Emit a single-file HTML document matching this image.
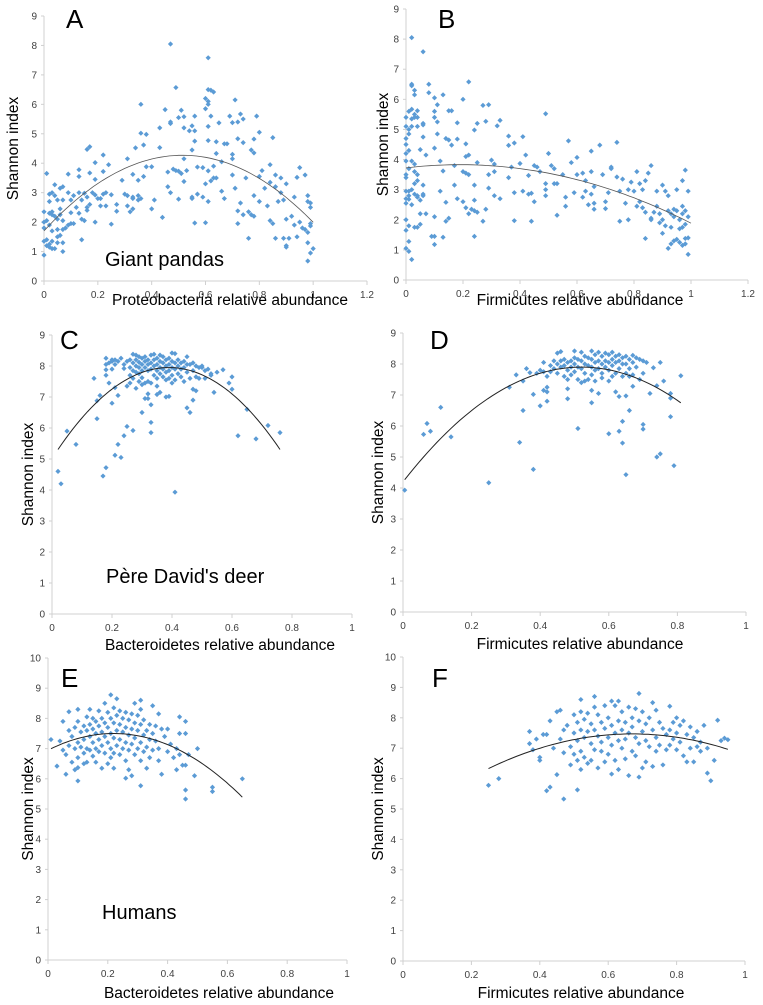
<!DOCTYPE html>
<html><head><meta charset="utf-8">
<style>
html,body{margin:0;padding:0;background:#fff;}
svg{display:block;font-family:"Liberation Sans",sans-serif;}
</style></head>
<body>
<svg id="fig" width="763" height="1005" viewBox="0 0 763 1005"></svg>
<script>
// ---------- data ----------
const pointsA = [[0.47,8.05],[0.61,7.58],[0.49,6.57],[0.61,6.5],[0.62,6.48],[0.63,6.42],[0.6,6.2],[0.61,6.1],[0.61,6.0],[0.36,6.0],[0.71,6.15],[0.45,5.82],[0.51,5.8],[0.6,5.85],[0.62,5.6],[0.5,5.55],[0.56,5.6],[0.52,5.58],[0.69,5.6],[0.73,5.67],[0.74,5.5],[0.79,5.6],[0.47,5.35],[0.47,5.4],[0.43,5.2],[0.52,5.2],[0.54,5.1],[0.55,5.27],[0.56,5.1],[0.61,5.25],[0.65,5.37],[0.7,5.38],[0.72,5.4],[0.38,4.98],[0.36,5.02],[0.8,5.05],[0.85,4.87],[0.56,4.75],[0.61,4.77],[0.64,4.73],[0.67,4.66],[0.68,4.66],[0.72,4.83],[0.74,4.7],[0.78,4.82],[0.37,4.62],[0.34,4.52],[0.43,4.53],[0.16,4.47],[0.17,4.56],[0.55,4.45],[0.64,4.33],[0.7,4.3],[0.77,4.45],[0.78,4.35],[0.22,4.28],[0.31,4.15],[0.52,4.15],[0.66,4.05],[0.7,4.15],[0.19,4.02],[0.24,3.95],[0.38,3.88],[0.4,3.88],[0.57,3.87],[0.63,3.9],[0.84,3.95],[0.09,3.63],[0.01,3.65],[0.13,3.78],[0.17,3.67],[0.22,3.72],[0.29,3.42],[0.33,3.62],[0.35,3.42],[0.37,3.55],[0.46,3.7],[0.48,3.8],[0.49,3.75],[0.5,3.73],[0.51,3.65],[0.53,3.75],[0.59,3.85],[0.61,3.74],[0.64,3.5],[0.7,3.6],[0.75,3.5],[0.8,3.55],[0.81,3.75],[0.86,3.6],[0.88,3.5],[0.95,3.85],[0.97,3.6],[0.94,3.52],[0.13,3.55],[0.19,3.45],[0.23,3.0],[0.22,2.95],[0.25,2.93],[0.07,3.2],[0.06,3.15],[0.04,3.27],[0.03,3.0],[0.02,2.95],[0.04,2.9],[0.09,3.0],[0.11,2.9],[0.13,3.0],[0.15,2.98],[0.16,2.85],[0.18,3.0],[0.19,2.92],[0.21,2.8],[0.05,2.75],[0.07,2.75],[0.02,2.7],[0.1,2.75],[0.14,2.75],[0.17,2.6],[0.16,2.5],[0.21,2.55],[0.23,2.55],[0.27,2.6],[0.27,2.37],[0.31,2.9],[0.33,2.85],[0.33,2.8],[0.35,2.75],[0.36,2.8],[0.32,2.35],[0.33,2.45],[0.31,2.55],[0.4,2.45],[0.41,2.75],[0.44,2.16],[0.46,3.2],[0.47,3.0],[0.5,2.78],[0.52,3.38],[0.55,2.85],[0.55,2.8],[0.57,2.95],[0.6,3.3],[0.62,3.4],[0.63,3.5],[0.61,2.7],[0.59,2.85],[0.66,3.05],[0.67,2.8],[0.71,3.15],[0.72,2.38],[0.73,2.65],[0.74,2.25],[0.76,2.35],[0.77,2.25],[0.78,2.9],[0.78,2.2],[0.8,2.7],[0.82,3.15],[0.83,2.55],[0.84,3.35],[0.86,3.2],[0.87,2.7],[0.88,3.0],[0.89,2.75],[0.9,3.3],[0.92,2.2],[0.93,2.85],[0.95,2.0],[0.96,1.8],[0.97,1.75],[0.98,2.9],[0.99,2.65],[0.99,2.5],[0.98,2.7],[0.99,1.95],[0.99,1.87],[0.98,1.65],[0.98,1.3],[0.99,0.95],[1.0,1.1],[0.98,0.68],[0.9,1.2],[0.89,1.45],[0.9,1.15],[0.91,1.45],[0.86,1.45],[0.85,1.95],[0.84,2.05],[0.93,1.9],[0.94,1.5],[0.9,2.1],[0.0,2.35],[0.0,2.0],[0.01,2.05],[0.0,1.8],[0.01,1.4],[0.0,1.35],[0.01,1.2],[0.0,0.88],[0.02,1.15],[0.02,1.25],[0.03,1.1],[0.04,1.1],[0.03,1.35],[0.05,1.5],[0.06,1.55],[0.07,1.3],[0.05,1.3],[0.07,1.0],[0.08,1.8],[0.07,1.75],[0.03,2.35],[0.02,2.3],[0.03,2.25],[0.04,2.2],[0.05,2.1],[0.06,2.25],[0.06,2.45],[0.07,2.05],[0.02,1.9],[0.03,1.7],[0.05,1.75],[0.09,1.9],[0.1,2.32],[0.1,1.95],[0.11,1.95],[0.12,2.5],[0.13,2.3],[0.14,2.1],[0.14,1.4],[0.15,2.05],[0.16,2.4],[0.19,2.0],[0.2,2.8],[0.25,1.93],[0.56,1.97],[0.6,1.98],[0.72,1.95],[0.76,1.45],[0.3,2.95],[0.35,2.9]];
const pointsB = [[0.02,8.05],[0.06,7.58],[0.02,6.5],[0.02,6.45],[0.08,6.5],[0.22,6.58],[0.03,6.3],[0.03,6.15],[0.08,6.22],[0.13,6.15],[0.1,6.05],[0.2,6.0],[0.0,5.4],[0.01,5.6],[0.02,5.67],[0.02,5.35],[0.03,5.5],[0.03,5.4],[0.04,5.62],[0.04,5.4],[0.11,5.82],[0.1,5.6],[0.15,5.62],[0.16,5.62],[0.27,5.8],[0.29,5.82],[0.49,5.52],[0.0,5.1],[0.01,5.0],[0.01,4.85],[0.0,4.7],[0.0,4.5],[0.0,4.2],[0.01,4.3],[0.02,5.1],[0.04,5.1],[0.06,5.15],[0.06,5.2],[0.06,4.75],[0.1,5.4],[0.11,5.25],[0.18,5.22],[0.25,5.2],[0.28,5.27],[0.32,5.12],[0.33,5.3],[0.11,4.85],[0.1,4.38],[0.07,4.15],[0.05,4.33],[0.14,4.7],[0.15,4.65],[0.16,4.48],[0.18,4.68],[0.21,4.52],[0.24,4.98],[0.36,4.78],[0.36,4.47],[0.38,4.55],[0.41,4.76],[0.42,4.15],[0.57,4.62],[0.6,4.07],[0.65,4.28],[0.68,4.48],[0.74,4.57],[0.0,3.95],[0.01,3.7],[0.0,3.5],[0.0,3.4],[0.02,3.95],[0.03,3.85],[0.03,3.6],[0.04,3.5],[0.03,3.2],[0.04,3.3],[0.06,3.15],[0.12,3.95],[0.13,3.62],[0.17,3.8],[0.21,4.1],[0.22,4.15],[0.2,3.6],[0.21,3.55],[0.22,3.5],[0.25,3.9],[0.29,3.5],[0.3,3.98],[0.31,3.85],[0.31,3.6],[0.36,3.4],[0.37,3.75],[0.4,3.87],[0.43,3.47],[0.45,3.8],[0.46,3.75],[0.47,3.6],[0.49,3.2],[0.5,4.2],[0.51,3.8],[0.52,3.7],[0.53,3.2],[0.55,3.5],[0.58,3.9],[0.6,3.5],[0.62,3.55],[0.63,3.3],[0.65,3.6],[0.66,3.1],[0.69,3.5],[0.71,2.9],[0.72,3.7],[0.72,3.75],[0.74,3.42],[0.76,3.35],[0.78,3.0],[0.79,3.25],[0.81,3.6],[0.82,3.2],[0.83,3.0],[0.84,3.3],[0.85,3.55],[0.86,3.8],[0.88,2.95],[0.9,3.15],[0.91,2.95],[0.92,2.8],[0.95,3.0],[0.97,3.3],[0.98,3.65],[0.99,2.95],[0.0,2.95],[0.0,2.7],[0.0,2.55],[0.01,2.95],[0.01,2.8],[0.01,2.68],[0.02,3.0],[0.02,2.5],[0.03,2.85],[0.04,2.8],[0.04,2.75],[0.05,2.65],[0.06,2.85],[0.06,2.8],[0.07,2.2],[0.05,2.2],[0.1,2.1],[0.12,2.95],[0.14,2.58],[0.17,3.15],[0.18,2.7],[0.2,2.6],[0.21,2.4],[0.22,2.2],[0.23,2.35],[0.24,2.3],[0.24,2.65],[0.25,2.25],[0.24,3.15],[0.28,2.35],[0.29,3.05],[0.31,2.8],[0.33,2.7],[0.38,2.9],[0.41,2.95],[0.43,2.85],[0.44,2.88],[0.45,2.6],[0.49,3.0],[0.49,2.8],[0.52,3.2],[0.56,2.75],[0.56,2.45],[0.59,2.9],[0.62,2.75],[0.63,2.95],[0.64,2.5],[0.65,2.85],[0.66,2.55],[0.66,2.35],[0.7,2.6],[0.7,2.37],[0.75,2.95],[0.77,2.55],[0.8,2.95],[0.81,2.45],[0.82,2.6],[0.83,2.4],[0.84,2.25],[0.86,2.05],[0.87,2.25],[0.88,2.45],[0.89,2.2],[0.9,2.0],[0.91,1.8],[0.92,2.3],[0.93,2.2],[0.93,1.75],[0.94,2.35],[0.94,2.1],[0.95,2.3],[0.96,2.0],[0.96,1.7],[0.97,2.2],[0.97,1.75],[0.97,2.45],[0.98,1.85],[0.98,2.3],[0.99,2.1],[0.99,1.4],[0.98,1.2],[0.99,0.85],[0.92,1.05],[0.93,1.2],[0.94,1.3],[0.95,1.35],[0.96,1.25],[0.97,1.15],[0.98,1.38],[0.84,1.38],[0.89,1.9],[0.86,2.0],[0.9,1.55],[0.78,2.0],[0.75,1.95],[0.53,2.15],[0.44,1.95],[0.38,1.97],[0.27,1.95],[0.24,1.45],[0.13,1.42],[0.1,1.45],[0.1,1.18],[0.09,1.45],[0.05,1.85],[0.03,1.75],[0.04,1.75],[0.01,1.8],[0.0,1.65],[0.0,2.0],[0.0,1.05],[0.01,0.95],[0.01,1.28],[0.02,0.68],[0.14,1.95],[0.15,2.05]];
const pointsC = [[0.02,4.6],[0.03,4.2],[0.05,5.9],[0.08,5.47],[0.14,7.6],[0.15,6.88],[0.16,7.05],[0.15,6.3],[0.17,4.45],[0.18,4.72],[0.2,6.8],[0.21,7.3],[0.22,7.05],[0.22,5.47],[0.21,5.12],[0.23,5.05],[0.24,5.75],[0.25,6.05],[0.27,5.92],[0.3,6.5],[0.31,6.95],[0.32,6.95],[0.32,7.1],[0.33,6.18],[0.33,6.75],[0.33,5.85],[0.35,7.08],[0.36,7.15],[0.38,7.0],[0.39,7.02],[0.41,3.93],[0.45,6.65],[0.46,6.5],[0.47,6.9],[0.47,7.25],[0.48,7.2],[0.54,7.15],[0.57,7.88],[0.6,7.65],[0.59,7.45],[0.6,7.25],[0.65,6.6],[0.62,5.75],[0.68,5.65],[0.72,6.08],[0.76,5.85],[0.53,7.75],[0.55,7.8],[0.5,7.95],[0.51,7.6],[0.18,8.25],[0.18,8.05],[0.18,7.88],[0.18,7.7],[0.19,8.1],[0.19,7.45],[0.2,8.2],[0.2,8.15],[0.2,7.9],[0.21,8.2],[0.21,8.05],[0.22,8.15],[0.23,8.25],[0.24,8.05],[0.24,7.92],[0.25,8.15],[0.25,7.35],[0.26,8.2],[0.26,7.95],[0.26,7.7],[0.27,8.38],[0.27,8.1],[0.27,7.85],[0.27,7.6],[0.28,8.35],[0.28,8.2],[0.28,8.0],[0.28,7.8],[0.28,7.28],[0.29,8.3],[0.29,8.12],[0.29,7.95],[0.29,7.5],[0.3,8.25],[0.3,8.05],[0.3,7.85],[0.3,7.62],[0.31,8.3],[0.31,8.15],[0.31,7.95],[0.31,7.45],[0.32,8.2],[0.32,8.05],[0.32,7.85],[0.32,7.5],[0.33,8.35],[0.33,8.1],[0.33,7.9],[0.33,7.45],[0.34,8.38],[0.34,8.2],[0.34,8.0],[0.34,7.7],[0.35,8.25],[0.35,8.05],[0.35,7.85],[0.35,7.6],[0.35,7.35],[0.36,8.35],[0.36,8.15],[0.36,7.95],[0.36,7.75],[0.37,8.3],[0.37,8.1],[0.37,7.9],[0.37,7.65],[0.38,8.2],[0.38,8.0],[0.38,7.8],[0.38,7.55],[0.39,8.25],[0.39,8.05],[0.39,7.85],[0.39,7.6],[0.4,8.42],[0.4,8.15],[0.4,7.95],[0.4,7.7],[0.4,7.45],[0.41,8.4],[0.41,8.1],[0.41,7.9],[0.41,7.55],[0.42,8.2],[0.42,8.0],[0.42,7.75],[0.43,8.1],[0.43,7.9],[0.43,7.65],[0.44,8.15],[0.44,7.95],[0.44,7.5],[0.45,8.3],[0.45,8.05],[0.45,7.8],[0.46,8.05],[0.46,7.6],[0.47,8.1],[0.47,7.85],[0.48,8.0],[0.48,7.65],[0.49,7.95],[0.49,7.6],[0.5,8.0],[0.51,7.85],[0.52,7.9],[0.53,7.7],[0.29,7.75],[0.3,7.4],[0.26,7.45]];
const pointsD = [[0.005,3.93],[0.06,5.73],[0.07,6.08],[0.08,5.83],[0.11,6.6],[0.14,5.65],[0.25,4.17],[0.31,7.25],[0.33,7.65],[0.34,5.47],[0.35,6.5],[0.35,7.45],[0.38,7.02],[0.38,4.6],[0.4,6.65],[0.41,7.15],[0.42,7.25],[0.42,7.1],[0.42,6.8],[0.48,7.2],[0.48,6.88],[0.51,5.92],[0.55,7.15],[0.55,6.75],[0.57,7.05],[0.6,5.75],[0.62,7.1],[0.63,6.95],[0.63,5.83],[0.64,6.15],[0.64,5.45],[0.65,6.97],[0.66,6.5],[0.65,4.43],[0.67,7.28],[0.7,6.05],[0.7,5.9],[0.72,7.05],[0.74,5.0],[0.75,5.1],[0.74,7.3],[0.76,7.45],[0.78,6.9],[0.78,7.05],[0.78,6.3],[0.79,4.72],[0.81,7.62],[0.73,7.88],[0.75,8.05],[0.36,7.85],[0.37,7.72],[0.39,7.7],[0.4,7.8],[0.41,8.05],[0.41,7.75],[0.42,7.6],[0.43,7.95],[0.43,7.75],[0.44,8.1],[0.44,7.85],[0.45,8.35],[0.45,8.0],[0.45,7.7],[0.46,8.4],[0.46,8.1],[0.46,7.9],[0.47,8.15],[0.47,7.95],[0.47,7.6],[0.48,8.05],[0.48,7.8],[0.48,7.5],[0.49,8.1],[0.49,7.9],[0.49,7.65],[0.5,8.42],[0.5,8.2],[0.5,8.0],[0.5,7.75],[0.51,8.15],[0.51,7.9],[0.51,7.5],[0.52,8.38],[0.52,8.1],[0.52,7.85],[0.52,7.4],[0.53,8.25],[0.53,8.0],[0.53,7.7],[0.54,8.2],[0.54,7.95],[0.54,7.5],[0.55,8.42],[0.55,8.15],[0.55,7.9],[0.55,7.65],[0.56,8.3],[0.56,8.05],[0.56,7.8],[0.56,7.45],[0.57,8.38],[0.57,8.1],[0.57,7.85],[0.58,8.25],[0.58,8.0],[0.58,7.7],[0.59,8.35],[0.59,8.1],[0.59,7.9],[0.6,8.3],[0.6,8.05],[0.6,7.8],[0.6,7.45],[0.61,8.38],[0.61,8.15],[0.61,7.95],[0.61,7.6],[0.62,8.25],[0.62,8.05],[0.62,7.7],[0.63,8.3],[0.63,8.1],[0.63,7.85],[0.64,8.2],[0.64,8.0],[0.64,7.6],[0.65,8.25],[0.65,8.0],[0.65,7.7],[0.66,8.15],[0.66,7.85],[0.67,8.28],[0.67,8.05],[0.67,7.65],[0.68,8.2],[0.68,7.9],[0.69,8.15],[0.69,7.5],[0.7,8.1],[0.7,7.7],[0.71,8.05],[0.66,7.6],[0.58,7.55],[0.53,7.45]];
const pointsE = [[0.01,7.3],[0.03,6.42],[0.04,7.25],[0.05,7.9],[0.06,6.15],[0.07,7.6],[0.1,5.93],[0.1,6.37],[0.1,8.3],[0.07,8.22],[0.21,8.78],[0.23,8.65],[0.31,8.6],[0.35,8.42],[0.26,6.02],[0.31,5.77],[0.44,8.05],[0.46,7.9],[0.5,7.0],[0.49,6.1],[0.46,5.63],[0.46,5.33],[0.55,5.72],[0.55,5.58],[0.65,6.0],[0.47,6.8],[0.45,6.45],[0.46,6.45],[0.44,7.5],[0.46,7.5],[0.06,6.8],[0.08,7.4],[0.08,6.55],[0.09,7.7],[0.09,7.0],[0.1,7.9],[0.1,7.2],[0.1,6.7],[0.11,7.55],[0.11,7.05],[0.12,7.75],[0.12,7.3],[0.12,6.85],[0.13,8.05],[0.13,7.6],[0.13,7.0],[0.13,6.55],[0.14,8.3],[0.14,7.8],[0.14,7.4],[0.14,6.95],[0.15,8.0],[0.15,7.65],[0.15,7.2],[0.15,6.75],[0.16,7.9],[0.16,7.5],[0.16,7.0],[0.16,6.55],[0.17,8.25],[0.17,7.75],[0.17,7.3],[0.17,6.9],[0.18,8.0],[0.18,7.55],[0.18,7.1],[0.18,6.35],[0.19,8.5],[0.19,7.85],[0.19,7.4],[0.19,6.85],[0.2,8.2],[0.2,7.7],[0.2,7.2],[0.2,6.5],[0.21,8.0],[0.21,7.5],[0.21,7.0],[0.21,6.7],[0.22,8.35],[0.22,7.85],[0.22,7.35],[0.22,6.85],[0.22,6.35],[0.23,8.1],[0.23,7.6],[0.23,7.1],[0.24,8.25],[0.24,7.8],[0.24,7.3],[0.24,6.8],[0.25,8.0],[0.25,7.55],[0.25,7.0],[0.26,8.2],[0.26,7.7],[0.26,7.2],[0.26,6.6],[0.27,7.95],[0.27,7.45],[0.27,6.95],[0.27,6.3],[0.28,8.15],[0.28,7.65],[0.28,7.15],[0.28,6.1],[0.29,8.5],[0.29,7.85],[0.29,7.35],[0.29,6.8],[0.3,8.1],[0.3,7.6],[0.3,7.0],[0.31,8.3],[0.31,7.8],[0.31,7.2],[0.31,6.6],[0.32,7.95],[0.32,7.45],[0.32,6.9],[0.33,7.6],[0.33,7.05],[0.33,6.35],[0.34,7.8],[0.34,7.3],[0.34,6.7],[0.35,7.5],[0.35,6.95],[0.36,7.75],[0.36,7.25],[0.37,8.15],[0.37,7.0],[0.37,6.6],[0.38,7.65],[0.38,6.15],[0.39,7.4],[0.4,7.65],[0.4,6.9],[0.41,7.15],[0.42,6.7],[0.43,7.0],[0.43,6.3],[0.44,6.8],[0.07,7.1],[0.05,6.95],[0.09,6.3],[0.12,6.5]];
const pointsF = [[0.25,5.78],[0.28,6.0],[0.37,7.15],[0.37,7.55],[0.38,6.95],[0.39,7.3],[0.4,6.7],[0.4,6.6],[0.41,7.45],[0.42,5.6],[0.42,7.45],[0.43,7.9],[0.43,5.72],[0.44,7.0],[0.45,8.2],[0.45,6.13],[0.46,8.25],[0.47,5.33],[0.51,5.63],[0.52,8.6],[0.56,8.7],[0.61,8.55],[0.63,8.55],[0.69,8.8],[0.89,6.18],[0.9,5.93],[0.91,6.6],[0.92,7.92],[0.93,7.25],[0.94,7.33],[0.95,7.28],[0.88,7.75],[0.89,7.0],[0.46,7.3],[0.47,6.85],[0.47,7.6],[0.48,7.75],[0.49,7.05],[0.49,6.45],[0.5,8.1],[0.5,7.5],[0.5,6.8],[0.51,7.85],[0.51,7.25],[0.51,6.6],[0.52,8.2],[0.52,7.6],[0.52,6.9],[0.52,6.3],[0.53,7.95],[0.53,7.35],[0.53,6.7],[0.54,8.15],[0.54,7.55],[0.54,6.5],[0.55,7.8],[0.55,7.15],[0.55,6.6],[0.56,8.35],[0.56,7.6],[0.56,6.95],[0.57,8.1],[0.57,7.4],[0.57,6.35],[0.58,7.85],[0.58,7.2],[0.58,6.9],[0.59,8.4],[0.59,7.65],[0.59,6.55],[0.6,8.0],[0.6,7.35],[0.6,6.8],[0.61,7.75],[0.61,7.1],[0.61,6.15],[0.62,8.4],[0.62,7.5],[0.62,6.6],[0.63,7.9],[0.63,7.25],[0.63,6.3],[0.64,8.2],[0.64,7.6],[0.64,7.0],[0.65,7.85],[0.65,7.3],[0.65,6.65],[0.66,8.35],[0.66,7.5],[0.66,6.1],[0.67,8.0],[0.67,7.7],[0.67,6.9],[0.68,8.3],[0.68,7.35],[0.68,6.75],[0.69,7.9],[0.69,7.15],[0.69,6.05],[0.7,8.2],[0.7,7.55],[0.7,6.35],[0.71,7.8],[0.71,7.25],[0.71,6.55],[0.72,8.0],[0.72,7.05],[0.73,8.5],[0.73,7.6],[0.73,6.4],[0.74,8.25],[0.74,7.35],[0.74,6.9],[0.75,7.85],[0.75,7.1],[0.76,7.65],[0.76,6.45],[0.77,7.45],[0.77,6.95],[0.78,8.38],[0.78,7.6],[0.78,7.1],[0.79,7.85],[0.79,7.3],[0.8,8.0],[0.8,7.5],[0.8,6.95],[0.81,7.75],[0.81,7.2],[0.82,7.9],[0.82,6.75],[0.83,7.45],[0.83,6.55],[0.84,7.7],[0.84,7.0],[0.85,7.35],[0.85,6.55],[0.86,7.55],[0.86,7.05],[0.87,7.2],[0.87,6.9]];
// fitted quadratic: [xStart, xEnd, vertexX, vertexY, curvature]
const fitA = [0.0, 1.0, 0.515, 4.27, -9.68];
const fitB = [0.0, 1.0, 0.19, 3.83, -2.96];
const fitC = [0.02, 0.76, 0.39, 7.95, -19.3];
const fitD = [0.005, 0.81, 0.52, 7.9, -13.7];
const fitE = [0.01, 0.65, 0.22, 7.5, -11.4];
const fitF = [0.25, 0.95, 0.67, 7.47, -6.46];
const xTicks12 = [0, 0.2, 0.4, 0.6, 0.8, 1, 1.2];
const xTicks1 = [0, 0.2, 0.4, 0.6, 0.8, 1];
const yTicks9 = [0,1,2,3,4,5,6,7,8,9];
const yTicks10 = [0,1,2,3,4,5,6,7,8,9,10];

// ---------- layout ----------
const panels = [
 {id:'a', letter:'A', pts:pointsA, fit:fitA, xt:xTicks12, yt:yTicks9, x0:44, x1:367, xmax:1.2, y0:281, y1:16, ymax:9, xtitle:'Proteobacteria relative abundance', xtx:230, xty:305, ytx:13, lx:66, ly:28, sp:'Giant pandas', spx:105, spy:266, curveW:0.8, curveC:'#555'},
 {id:'b', letter:'B', pts:pointsB, fit:fitB, xt:xTicks12, yt:yTicks9, x0:406, x1:748, xmax:1.2, y0:280, y1:9, ymax:9, xtitle:'Firmicutes relative abundance', xtx:580, xty:305, ytx:383, lx:438, ly:28, curveW:0.8, curveC:'#555'},
 {id:'c', letter:'C', pts:pointsC, fit:fitC, xt:xTicks1, yt:yTicks9, x0:52, x1:352, xmax:1, y0:614, y1:335, ymax:9, xtitle:'Bacteroidetes relative abundance', xtx:220, xty:650, ytx:28, lx:60, ly:349, sp:"Père David's deer", spx:106, spy:583, curveW:1, curveC:'#222'},
 {id:'d', letter:'D', pts:pointsD, fit:fitD, xt:xTicks1, yt:yTicks9, x0:403, x1:746, xmax:1, y0:612, y1:333, ymax:9, xtitle:'Firmicutes relative abundance', xtx:580, xty:649, ytx:378, lx:430, ly:349, curveW:1, curveC:'#222'},
 {id:'e', letter:'E', pts:pointsE, fit:fitE, xt:xTicks1, yt:yTicks10, x0:48, x1:347, xmax:1, y0:960, y1:658, ymax:10, xtitle:'Bacteroidetes relative abundance', xtx:219, xty:998, ytx:28, lx:61, ly:687, sp:'Humans', spx:102, spy:919, curveW:1, curveC:'#222'},
 {id:'f', letter:'F', pts:pointsF, fit:fitF, xt:xTicks1, yt:yTicks10, x0:403, x1:745, xmax:1, y0:961, y1:657, ymax:10, xtitle:'Firmicutes relative abundance', xtx:581, xty:998, ytx:378, lx:432, ly:687, curveW:1, curveC:'#222'}
];

const NS='http://www.w3.org/2000/svg';
const svg=document.getElementById('fig');
function mk(tag, attrs, parent){const e=document.createElementNS(NS,tag);for(const k in attrs)e.setAttribute(k,attrs[k]);(parent||svg).appendChild(e);return e;}

panels.forEach(p=>{
  const g=mk('g',{});
  
  
  const sx=v=>p.x0+(v/p.xmax)*(p.x1-p.x0);
  const sy=v=>p.y0-(v/p.ymax)*(p.y0-p.y1);
  // axes
  const ya=mk('line',{x1:p.x0,y1:p.y0,x2:p.x0,y2:p.y1,stroke:'#d0d0d0','stroke-width':1},g);
  
  
  const xa=mk('line',{x1:p.x0,y1:p.y0,x2:p.x1,y2:p.y0,stroke:'#d0d0d0','stroke-width':1},g);
  
  
  p.yt.forEach(v=>{
    const y=sy(v);
    mk('line',{x1:p.x0-3,y1:y,x2:p.x0,y2:y,stroke:'#d0d0d0'},g);
    const t=mk('text',{x:p.x0-7,y:y+3.5,'font-size':10,fill:'#404040','text-anchor':'end'},g);
    t.textContent=v;
    
    
  });
  p.xt.forEach(v=>{
    const x=sx(v);
    mk('line',{x1:x,y1:p.y0,x2:x,y2:p.y0+4,stroke:'#d0d0d0'},g);
    const t=mk('text',{x:x,y:p.y0+17,'font-size':10,fill:'#404040','text-anchor':'middle'},g);
    t.textContent=v;
    
    
  });
  // points
  const pg=mk('g',{fill:'#5b9bd5'},g);
  
  
  p.pts.forEach(d=>{
    const x=sx(d[0]),y=sy(d[1]),r=2.6;
    const m=mk('polygon',{points:`${x},${y-r} ${x+r},${y} ${x},${y+r} ${x-r},${y}`},pg);
    
    
  });
  // fit curve
  const f=p.fit;let dstr='';
  for(let i=0;i<=60;i++){const xv=f[0]+(f[1]-f[0])*i/60;const yv=f[3]+f[4]*(xv-f[2])*(xv-f[2]);dstr+=(i?'L':'M')+sx(xv).toFixed(1)+','+sy(yv).toFixed(1);}
  const c=mk('path',{d:dstr,fill:'none',stroke:p.curveC,'stroke-width':p.curveW},g);
  
  
  // titles
  const xt=mk('text',{x:p.xtx,y:p.xty,'font-size':15.5,fill:'#000','text-anchor':'middle'},g);
  xt.textContent=p.xtitle;
  
  
  const ymid=(p.y0+p.y1)/2;
  const yt=mk('text',{x:p.ytx,y:ymid,'font-size':15.5,fill:'#000','text-anchor':'middle',transform:`rotate(-90 ${p.ytx} ${ymid})`,dy:5},g);
  yt.textContent='Shannon index';
  
  
  const L=mk('text',{x:p.lx,y:p.ly,'font-size':26,fill:'#000'},g);
  L.textContent=p.letter;
  
  
  if(p.sp){
    const s=mk('text',{x:p.spx,y:p.spy,'font-size':20,fill:'#000'},g);
    s.textContent=p.sp;
    
    
  }
});
</script>
</body></html>
